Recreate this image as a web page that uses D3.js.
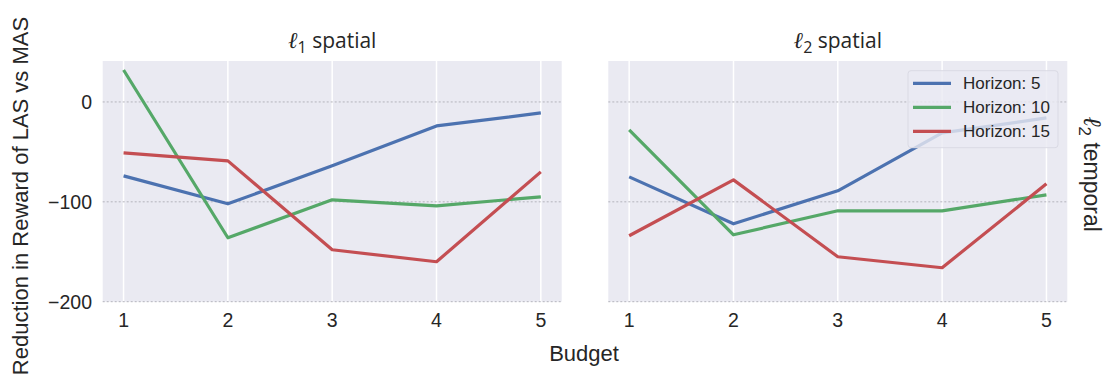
<!DOCTYPE html>
<html>
<head>
<meta charset="utf-8">
<script src="https://cdn.jsdelivr.net/npm/d3@7"></script>
<style>
  body { margin: 0; background: #fff; }
  text { font-family: "Liberation Sans", Arial, sans-serif; fill: #262626; }
</style>
</head>
<body>
<div id="chart"></div>
<script>
const width = 1116;
const height = 392;

const budgets = [1, 2, 3, 4, 5];
const yTicks = [0, -100, -200];
const seriesNames = ["Horizon: 5", "Horizon: 10", "Horizon: 15"];
const colors = ["#4C72B0", "#55A868", "#C44E52"];

// left panel (l1 spatial)
const l1Horizon5 = [-74, -102, -64, -24, -11];
const l1Horizon10 = [32, -136, -98, -104, -95];
const l1Horizon15 = [-51, -59, -148, -160, -70];

// right panel (l2 spatial)
const l2Horizon5 = [-75, -122, -89, -31, -16];
const l2Horizon10 = [-28, -133, -109, -109, -93];
const l2Horizon15 = [-134, -78, -155, -166, -82];

const panels = [
  { sub: "1", left: 102.7, series: [l1Horizon5, l1Horizon10, l1Horizon15], legend: false },
  { sub: "2", left: 608.3, series: [l2Horizon5, l2Horizon10, l2Horizon15], legend: true }
];

const panelW = 459;
const plotTop = 61;
const plotBottom = 301.7;

const svg = d3.select("#chart").append("svg")
  .attr("width", width)
  .attr("height", height);

const y = d3.scaleLinear().domain([-200, 41]).range([plotBottom, plotTop]);

panels.forEach((p, pi) => {
  const x = d3.scaleLinear().domain([0.8, 5.2]).range([p.left, p.left + panelW]);
  const g = svg.append("g");

  g.append("rect")
    .attr("x", p.left).attr("y", plotTop)
    .attr("width", panelW).attr("height", plotBottom - plotTop)
    .attr("fill", "#EAEAF2");

  // vertical white grid
  g.selectAll(".vgrid").data(budgets).enter().append("line")
    .attr("x1", d => x(d)).attr("x2", d => x(d))
    .attr("y1", plotTop).attr("y2", plotBottom)
    .attr("stroke", "#fff").attr("stroke-width", 1.5);

  // horizontal dotted grid
  g.selectAll(".hgrid").data(yTicks).enter().append("line")
    .attr("x1", p.left).attr("x2", p.left + panelW)
    .attr("y1", d => y(d)).attr("y2", d => y(d))
    .attr("stroke", "#b4b4bc").attr("stroke-width", 1)
    .attr("stroke-dasharray", "2,2");

  // x tick labels
  g.selectAll(".xt").data(budgets).enter().append("text")
    .attr("x", d => x(d)).attr("y", 327)
    .attr("text-anchor", "middle")
    .attr("font-size", 19.5)
    .text(d => d);

  if (pi === 0) {
    g.selectAll(".yt").data(yTicks).enter().append("text")
      .attr("x", 92).attr("y", d => y(d) + 7.5)
      .attr("text-anchor", "end")
      .attr("font-size", 19.5)
      .text(d => d3.format("")(d).replace("-", "\u2212"));
  }

  const line = d3.line().x((d, i) => x(budgets[i])).y(d => y(d));
  p.series.forEach((s, si) => {
    g.append("path")
      .datum(s)
      .attr("d", line)
      .attr("fill", "none")
      .attr("stroke", colors[si])
      .attr("stroke-width", 3.2)
      .attr("stroke-linejoin", "round");
  });

  // title
  const t = g.append("text")
    .attr("x", p.left + panelW / 2).attr("y", 48)
    .attr("text-anchor", "middle")
    .attr("font-size", 21)
    .style("font-family", "'Open Sans', 'Noto Sans', sans-serif");
  t.append("tspan").attr("font-style", "italic").attr("font-size", 23).style("font-family", "'DejaVu Serif', serif").text("ℓ");
  t.append("tspan").attr("font-size", 16).attr("dy", 5).text(p.sub);
  t.append("tspan").attr("dy", -5).text(" spatial");

  if (p.legend) {
    const lx = 908, ly = 70.7;
    const lg = g.append("g");
    lg.append("rect")
      .attr("x", lx).attr("y", ly)
      .attr("width", 150).attr("height", 77)
      .attr("rx", 3)
      .attr("fill", "#EAEAF2").attr("fill-opacity", 0.8)
      .attr("stroke", "#dadae4").attr("stroke-width", 1);
    seriesNames.forEach((name, i) => {
      const ry = 83.3 + i * 24;
      lg.append("line")
        .attr("x1", 913).attr("x2", 951)
        .attr("y1", ry).attr("y2", ry)
        .attr("stroke", colors[i]).attr("stroke-width", 3.2);
      lg.append("text")
        .attr("x", 963).attr("y", ry + 6)
        .attr("font-size", 17)
        .text(name);
    });
  }
});

// axis labels
svg.append("text")
  .attr("transform", "translate(28,196) rotate(-90)")
  .attr("text-anchor", "middle")
  .attr("font-size", 22)
  .text("Reduction in Reward of LAS vs MAS");

svg.append("text")
  .attr("x", 584).attr("y", 361)
  .attr("text-anchor", "middle")
  .attr("font-size", 22)
  .text("Budget");

const rt = svg.append("text")
  .attr("transform", "translate(1084,174) rotate(90)")
  .attr("text-anchor", "middle")
  .attr("font-size", 23);
rt.append("tspan").attr("font-style", "italic").attr("font-size", 25).style("font-family", "'DejaVu Serif', serif").text("ℓ");
rt.append("tspan").attr("font-size", 17).attr("dy", 5).text("2");
rt.append("tspan").attr("dy", -5).text(" temporal");
</script>
</body>
</html>
